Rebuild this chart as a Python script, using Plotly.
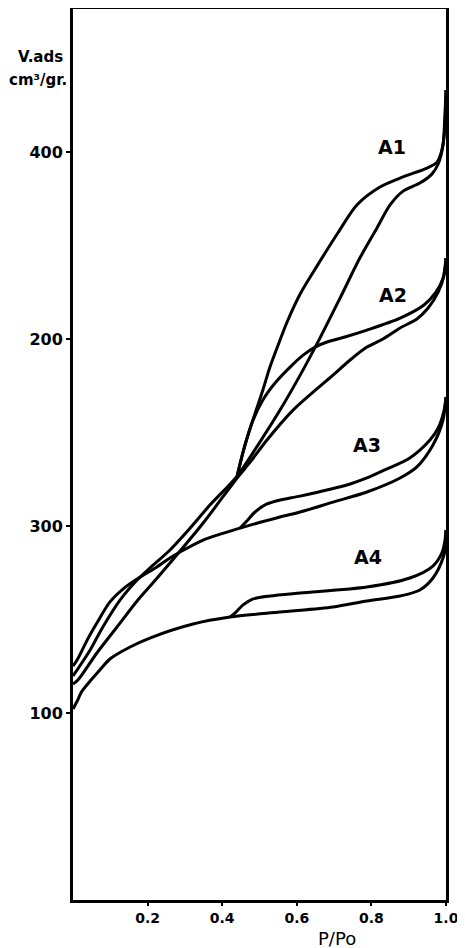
import plotly.graph_objects as go

# ---- data (P/Po, V ads in the chart's offset units) ----
a1_ads_p = [0.0, 0.011, 0.046, 0.080, 0.126, 0.172, 0.206, 0.260, 0.314, 0.367, 0.440, 0.501, 0.555, 0.609, 0.662, 0.716, 0.769, 0.815, 0.850, 0.885, 0.930, 0.962, 0.979, 0.992, 0.997, 1.0]
a1_ads_v = [119.8, 123.0, 133.7, 146.0, 160.4, 171.1, 177.5, 187.2, 198.9, 211.2, 226.7, 244.9, 262.0, 280.7, 300.5, 321.9, 343.3, 359.4, 371.7, 379.1, 383.4, 388.2, 393.6, 403.7, 419.8, 433.2]
a1_des_p = [1.0, 0.997, 0.989, 0.976, 0.949, 0.885, 0.823, 0.761, 0.710, 0.654, 0.609, 0.574, 0.550, 0.528, 0.509, 0.493, 0.475, 0.456, 0.440]
a1_des_v = [433.2, 412.8, 401.1, 394.6, 391.4, 386.7, 381.3, 371.7, 356.7, 339.0, 324.1, 309.1, 296.8, 285.0, 272.7, 263.1, 252.4, 239.6, 226.7]

a2_ads_p = [0.0, 0.013, 0.064, 0.118, 0.174, 0.214, 0.260, 0.349, 0.440, 0.475, 0.520, 0.590, 0.697, 0.743, 0.788, 0.831, 0.877, 0.922, 0.952, 0.979, 0.995, 1.0]
a2_ads_v = [115.5, 117.6, 132.1, 146.0, 160.4, 169.5, 180.2, 201.6, 225.7, 234.2, 246.0, 262.0, 280.7, 288.8, 295.7, 300.0, 305.9, 310.7, 316.6, 325.1, 334.2, 343.3]
a2_des_p = [1.0, 0.992, 0.973, 0.941, 0.877, 0.788, 0.729, 0.681, 0.649, 0.617, 0.582, 0.544, 0.509, 0.483, 0.461, 0.440]
a2_des_v = [343.3, 332.6, 325.1, 318.2, 311.2, 304.8, 301.1, 298.4, 295.7, 291.4, 285.0, 277.0, 267.4, 256.7, 243.3, 226.7]

a3_ads_p = [0.0, 0.011, 0.038, 0.064, 0.099, 0.134, 0.180, 0.225, 0.260, 0.287, 0.349, 0.448, 0.555, 0.609, 0.697, 0.788, 0.877, 0.922, 0.965, 0.992, 1.0]
a3_ads_v = [125.1, 128.3, 139.0, 148.1, 159.4, 166.3, 172.7, 178.1, 182.9, 186.1, 192.5, 198.9, 204.8, 207.5, 212.8, 218.2, 225.7, 231.6, 243.3, 256.7, 269.0]
a3_des_p = [1.0, 0.995, 0.979, 0.957, 0.903, 0.836, 0.788, 0.743, 0.609, 0.555, 0.520, 0.488, 0.466, 0.448]
a3_des_v = [269.0, 262.0, 252.4, 246.0, 236.4, 230.0, 225.7, 222.5, 216.0, 213.9, 211.8, 207.5, 202.7, 198.9]

a4_ads_p = [0.0, 0.011, 0.024, 0.046, 0.072, 0.099, 0.153, 0.206, 0.322, 0.421, 0.555, 0.697, 0.788, 0.877, 0.930, 0.965, 0.992, 1.0, 1.0]
a4_ads_v = [102.1, 106.3, 111.6, 117.1, 123.0, 128.9, 135.3, 140.1, 147.6, 151.3, 154.0, 156.7, 159.9, 162.6, 165.8, 172.2, 182.9, 190.9, 197.9]
a4_des_p = [1.0, 0.997, 0.989, 0.965, 0.903, 0.788, 0.609, 0.528, 0.483, 0.456, 0.437, 0.421]
a4_des_v = [197.9, 192.0, 185.6, 178.6, 172.2, 167.4, 164.2, 162.6, 161.0, 157.8, 154.0, 151.3]

series_names = ["A1", "A2", "A3", "A4"]
label_p = [0.855, 0.858, 0.788, 0.791]
label_v = [402.7, 323.5, 243.3, 183.4]

y_tick_vals = [100, 200, 300, 400]
y_tick_text = ["100", "300", "200", "400"]
x_tick_vals = [0.2, 0.4, 0.6, 0.8, 1.0]
x_tick_text = ["0.2", "0.4", "0.6", "0.8", "1.0"]

FONT = "DejaVu Sans"

fig = go.Figure()
branches = [
    (a1_ads_p, a1_ads_v), (a1_des_p, a1_des_v),
    (a2_ads_p, a2_ads_v), (a2_des_p, a2_des_v),
    (a3_ads_p, a3_ads_v), (a3_des_p, a3_des_v),
    (a4_ads_p, a4_ads_v), (a4_des_p, a4_des_v),
]
for px, pv in branches:
    fig.add_trace(go.Scatter(x=px, y=pv, mode="lines",
                             line=dict(color="black", width=3, shape="spline", smoothing=0.8),
                             showlegend=False, hoverinfo="skip"))

for name, lp, lv in zip(series_names, label_p, label_v):
    fig.add_annotation(x=lp, y=lv, text="<b>" + name + "</b>", showarrow=False, xanchor="center",
                       yanchor="middle", font=dict(family=FONT, size=19, color="black"))

# axis titles (placed in paper coordinates)
fig.add_annotation(xref="paper", yref="paper", x=-0.088, y=0.946, text="<b>V.ads</b>",
                   showarrow=False, xanchor="center", yanchor="middle",
                   font=dict(family=FONT, size=15, color="black"))
fig.add_annotation(xref="paper", yref="paper", x=-0.094, y=0.920, text="<b>cm³/gr.</b>",
                   showarrow=False, xanchor="center", yanchor="middle",
                   font=dict(family=FONT, size=15, color="black"))
fig.add_annotation(xref="paper", yref="paper", x=0.708, y=-0.043, text="P/Po",
                   showarrow=False, xanchor="center", yanchor="middle",
                   font=dict(family=FONT, size=18, color="black"))

fig.update_xaxes(range=[0, 1], tickvals=x_tick_vals, ticktext=x_tick_text,
                 showline=True, linecolor="black", linewidth=3, mirror=True,
                 showgrid=False, zeroline=False, ticks="outside", ticklen=3,
                 tickwidth=2, tickcolor="black", automargin=False,
                 tickfont=dict(family=FONT, size=14, color="black", weight="bold"))
fig.update_yaxes(range=[0, 476.5], tickvals=y_tick_vals, ticktext=y_tick_text,
                 showline=True, linecolor="black", linewidth=3, mirror=True,
                 showgrid=False, zeroline=False, ticks="outside", ticklen=4,
                 tickwidth=2, tickcolor="black", automargin=False,
                 tickfont=dict(family=FONT, size=16, color="black", weight="bold"))

# page body adds an 8px offset; figure size/margins compensate for it
fig.update_layout(width=457, height=940, margin=dict(l=65, r=19, t=1, b=48),
                  plot_bgcolor="white", paper_bgcolor="white")

fig.write_html("out.html")
